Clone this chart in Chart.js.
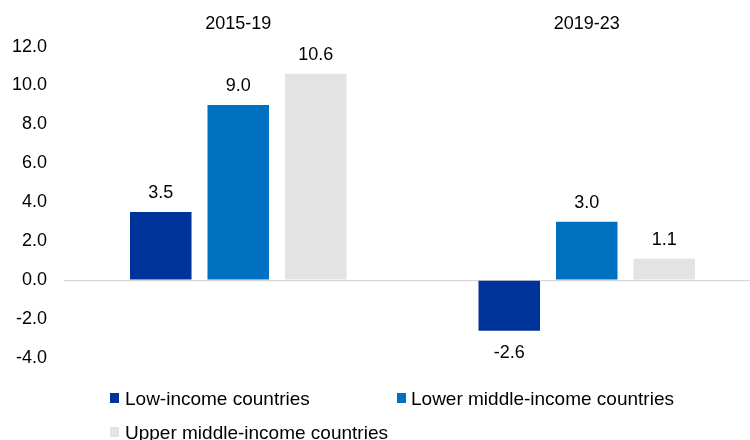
<!DOCTYPE html>
<html>
<head>
<meta charset="utf-8">
<script src="https://cdn.jsdelivr.net/npm/chart.js@4.4.1/dist/chart.umd.min.js"></script>
<style>
  html, body { margin: 0; padding: 0; background: #fff; }
  #wrap { position: relative; width: 750px; height: 440px; overflow: hidden; }
  #c { position: absolute; left: 0; top: 0; }
  .lg { position: absolute; font-family: "Liberation Sans", Arial, sans-serif; font-size: 19px; color: #000; white-space: nowrap; line-height: 1; }
  .sw { position: absolute; width: 9px; height: 10px; }
</style>
</head>
<body>
<div id="wrap">
  <canvas id="c" width="761" height="440"></canvas>
  <div id="legend"></div>
</div>
<script>
const categories = ["2015-19", "2019-23"];
const seriesNames = ["Low-income countries", "Lower middle-income countries", "Upper middle-income countries"];
const lowIncome = [3.5, -2.6];
const lowerMiddleIncome = [9.0, 3.0];
const upperMiddleIncome = [10.6, 1.1];
const seriesColors = ["#003399", "#0070C0", "#E3E3E3"];
const yTicks = [-4, -2, 0, 2, 4, 6, 8, 10, 12];

const FONT = "Liberation Sans, Arial, sans-serif";

const valueLabels = {
  id: "valueLabels",
  afterDatasetsDraw(chart) {
    const ctx = chart.ctx;
    ctx.save();
    ctx.font = "18px " + FONT;
    ctx.fillStyle = "#000";
    ctx.textAlign = "center";
    ctx.textBaseline = "middle";
    chart.data.datasets.forEach((ds, i) => {
      const meta = chart.getDatasetMeta(i);
      meta.data.forEach((bar, j) => {
        const v = ds.data[j];
        const y = v >= 0 ? bar.y - 19 : bar.y + 22;
        ctx.fillText(v.toFixed(1), bar.x, y);
      });
    });
    ctx.restore();
  }
};

new Chart(document.getElementById("c"), {
  type: "bar",
  data: {
    labels: categories,
    datasets: [
      { label: seriesNames[0], data: lowIncome, backgroundColor: seriesColors[0] },
      { label: seriesNames[1], data: lowerMiddleIncome, backgroundColor: seriesColors[1] },
      { label: seriesNames[2], data: upperMiddleIncome, backgroundColor: seriesColors[2] }
    ]
  },
  options: {
    responsive: false,
    animation: false,
    devicePixelRatio: 1,
    layout: { padding: { top: 1, right: 0, bottom: 82, left: 0 } },
    datasets: { bar: { categoryPercentage: 0.667, barPercentage: 0.794 } },
    plugins: { legend: { display: false }, tooltip: { enabled: false } },
    scales: {
      x: {
        position: "top",
        grid: { display: false, drawTicks: false },
        border: { display: false },
        ticks: { font: { family: FONT, size: 18 }, color: "#000", padding: 12 }
      },
      y: {
        min: -4, max: 12,
        afterBuildTicks(scale) { scale.ticks = yTicks.map(v => ({ value: v })); },
        afterFit(scale) { scale.width = 64; },
        grid: {
          drawTicks: false,
          lineWidth: 1.3,
          color: ctx => (ctx.tick && ctx.tick.value === 0) ? "#D9D9D9" : "rgba(0,0,0,0)"
        },
        border: { display: false },
        ticks: {
          font: { family: FONT, size: 18 }, color: "#000", padding: 17,
          callback: v => Number(v).toFixed(1)
        }
      }
    }
  },
  plugins: [valueLabels]
});

// HTML legend
const legendPos = [
  { sx: 110, tx: 125, cy: 398 },
  { sx: 397, tx: 411, cy: 398 },
  { sx: 110, tx: 125, cy: 432 }
];
const lg = document.getElementById("legend");
seriesNames.forEach((name, i) => {
  const p = legendPos[i];
  const sw = document.createElement("div");
  sw.className = "sw";
  sw.style.left = p.sx + "px";
  sw.style.top = (p.cy - 5) + "px";
  sw.style.background = seriesColors[i];
  lg.appendChild(sw);
  const t = document.createElement("div");
  t.className = "lg";
  t.textContent = name;
  t.style.left = p.tx + "px";
  t.style.top = (p.cy - 9) + "px";
  lg.appendChild(t);
});
</script>
</body>
</html>
